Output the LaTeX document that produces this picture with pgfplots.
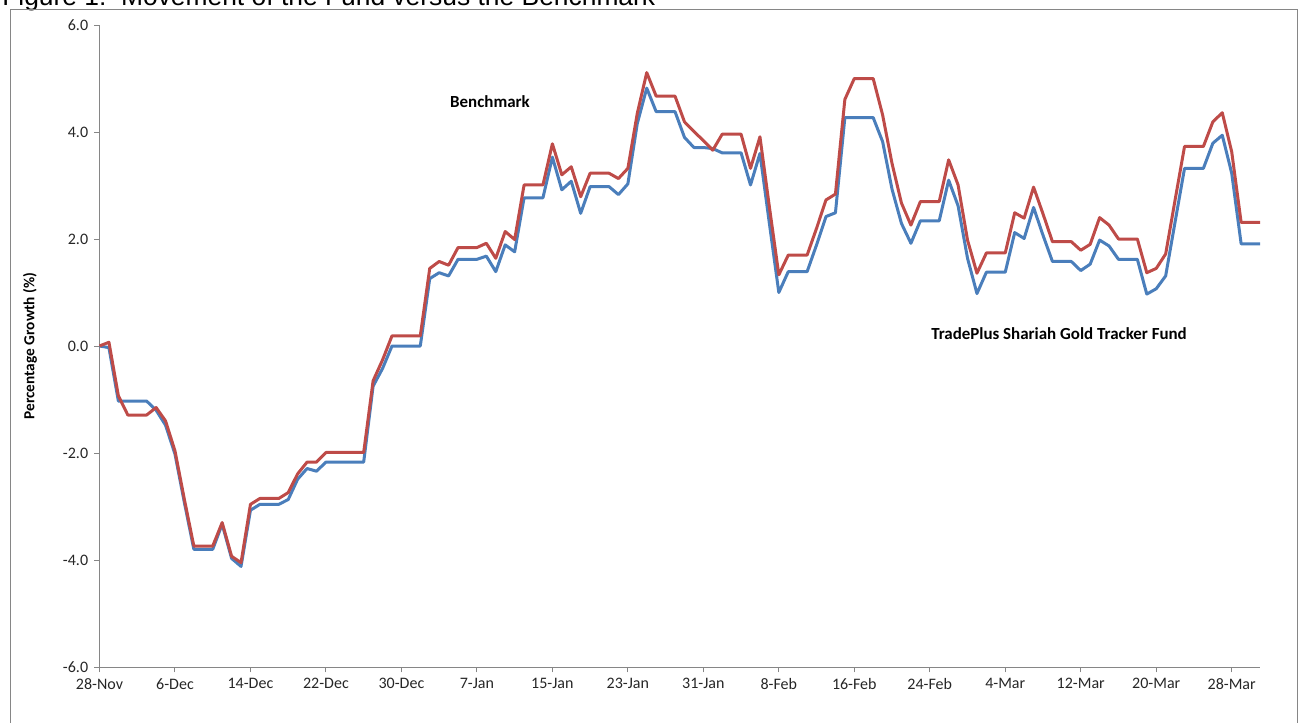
\documentclass[border=0pt]{standalone}
\usepackage{pgfplots}
\pgfplotsset{compat=1.18}
\usepackage{pgfplotstable}
\usepackage{fontspec}
\setmainfont{Carlito}
\newfontfamily\arial{Liberation Sans}
\definecolor{fundblue}{HTML}{4A7EBB}
\definecolor{benchred}{HTML}{BE4B48}
\definecolor{axgray}{HTML}{868686}

\pgfplotstableread{
day bench fund
0 0.00 0.00
1 0.07 -0.03
2 -0.93 -1.03
3 -1.29 -1.03
4 -1.29 -1.03
5 -1.29 -1.03
6 -1.15 -1.20
7 -1.40 -1.48
8 -1.96 -2.02
9 -2.87 -2.93
10 -3.74 -3.80
11 -3.74 -3.80
12 -3.74 -3.80
13 -3.30 -3.33
14 -3.93 -3.97
15 -4.05 -4.12
16 -2.96 -3.07
17 -2.85 -2.96
18 -2.85 -2.96
19 -2.85 -2.96
20 -2.74 -2.87
21 -2.39 -2.49
22 -2.17 -2.29
23 -2.17 -2.34
24 -1.99 -2.17
25 -1.99 -2.17
26 -1.99 -2.17
27 -1.99 -2.17
28 -1.99 -2.17
29 -0.65 -0.75
30 -0.26 -0.42
31 0.19 0.00
32 0.19 0.00
33 0.19 0.00
34 0.19 0.00
35 1.45 1.26
36 1.58 1.37
37 1.51 1.31
38 1.84 1.62
39 1.84 1.62
40 1.84 1.62
41 1.92 1.68
42 1.64 1.39
43 2.14 1.89
44 1.99 1.76
45 3.01 2.77
46 3.01 2.77
47 3.01 2.77
48 3.78 3.53
49 3.20 2.92
50 3.35 3.08
51 2.79 2.48
52 3.23 2.98
53 3.23 2.98
54 3.23 2.98
55 3.13 2.83
56 3.32 3.03
57 4.35 4.16
58 5.11 4.82
59 4.67 4.38
60 4.67 4.38
61 4.67 4.38
62 4.19 3.90
63 4.01 3.71
64 3.84 3.71
65 3.66 3.69
66 3.96 3.61
67 3.96 3.61
68 3.96 3.61
69 3.32 3.01
70 3.91 3.60
71 2.60 2.29
72 1.33 1.00
73 1.70 1.39
74 1.70 1.39
75 1.70 1.39
76 2.20 1.89
77 2.73 2.42
78 2.84 2.49
79 4.61 4.27
80 5.00 4.27
81 5.00 4.27
82 5.00 4.27
83 4.32 3.82
84 3.41 2.93
85 2.67 2.29
86 2.26 1.92
87 2.70 2.34
88 2.70 2.34
89 2.70 2.34
90 3.48 3.10
91 3.01 2.62
92 1.98 1.64
93 1.36 0.98
94 1.74 1.38
95 1.74 1.38
96 1.74 1.38
97 2.49 2.12
98 2.39 2.01
99 2.97 2.59
100 2.47 2.07
101 1.95 1.58
102 1.95 1.58
103 1.95 1.58
104 1.79 1.41
105 1.90 1.53
106 2.40 1.98
107 2.26 1.87
108 2.00 1.62
109 2.00 1.62
110 2.00 1.62
111 1.37 0.97
112 1.45 1.07
113 1.72 1.31
114 2.73 2.32
115 3.73 3.32
116 3.73 3.32
117 3.73 3.32
118 4.19 3.79
119 4.36 3.94
120 3.63 3.23
121 2.31 1.91
122 2.31 1.91
123 2.31 1.91
}\growth

\begin{document}
\begin{tikzpicture}
\node[anchor=base west, inner sep=0pt, font=\arial\fontsize{19.8pt}{22pt}\selectfont] at (1.5pt,-4.5pt) {Figure 1:\ \ Movement of the Fund versus the Benchmark};
\draw[axgray, line width=0.75pt] (7.5pt,-7.5pt) rectangle (972.75pt,-542.5pt);
\begin{axis}[
  at={(74.625pt,-500.25pt)}, anchor=south west,
  scale only axis, width=870.375pt, height=481.5pt,
  xmin=0, xmax=123, ymin=-6, ymax=6,
  axis lines=left, axis line style={-, axgray, line width=0.75pt},
  tick align=outside, major tick length=4pt,
  tick style={axgray, line width=0.75pt},
  xtick={0,8,...,120},
  xticklabels={28-Nov,6-Dec,14-Dec,22-Dec,30-Dec,7-Jan,15-Jan,23-Jan,31-Jan,8-Feb,16-Feb,24-Feb,4-Mar,12-Mar,20-Mar,28-Mar},
  ytick={-6,-4,...,6},
  yticklabels={-6.0,-4.0,-2.0,0.0,2.0,4.0,6.0},
  ticklabel style={font=\fontsize{12pt}{14pt}\selectfont, text=black!85},
  xticklabel style={yshift=-1pt},
  yticklabel style={xshift=-1pt},
  clip=false,
]
\addplot[fundblue, line width=2.25pt, line join=round] table[x=day, y=fund] {\growth};
\addplot[benchred, line width=2.25pt, line join=round] table[x=day, y=bench] {\growth};
\end{axis}
\node[rotate=90, font=\bfseries\fontsize{11.5pt}{13pt}\selectfont] at (22.5pt,-259.5pt) {Percentage Growth (\%)};
\node[font=\bfseries\fontsize{12.7pt}{14pt}\selectfont] at (367.5pt,-76.5pt) {Benchmark};
\node[font=\bfseries\fontsize{12.7pt}{14pt}\selectfont] at (794.25pt,-250.5pt) {TradePlus Shariah Gold Tracker Fund};
\pgfresetboundingbox
\useasboundingbox (0pt,0pt) rectangle (973.5pt,-542.25pt);
\end{tikzpicture}
\end{document}
